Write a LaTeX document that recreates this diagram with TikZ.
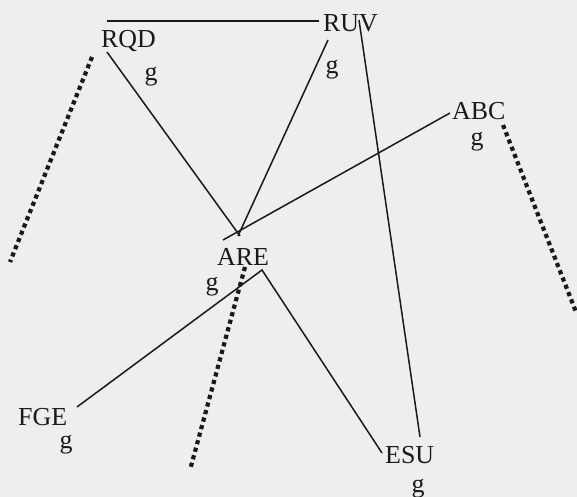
\documentclass[tikz,border=0pt]{standalone}
\usepackage{fontspec}
\setmainfont{Liberation Serif}
\definecolor{bg}{RGB}{238,238,236}
\definecolor{ink}{RGB}{25,25,25}
\begin{document}
\begin{tikzpicture}[x=1bp,y=-1bp,
  lbl/.style={inner sep=0pt, anchor=base west, font=\fontsize{26}{26}\selectfont, text=ink},
  gl/.style={inner sep=0pt, anchor=base, font=\fontsize{26}{26}\selectfont, text=ink},
  edge/.style={line width=1.5bp, draw=ink},
  dots/.style={line width=4.2bp, draw=ink, dash pattern=on 4.2bp off 3.6bp}]
\fill[bg] (0,0) rectangle (577,497);
\useasboundingbox (0,0) rectangle (577,497);
% labels
\node[lbl] (RQD) at (101,48) {RQD};
\node[gl]  (RQDg) at (151,81) {g};
\node[lbl] (RUV) at (323,32) {RUV};
\node[gl]  (RUVg) at (332,74) {g};
\node[lbl] (ABC) at (452,120) {ABC};
\node[gl]  (ABCg) at (477,146) {g};
\node[lbl] (ARE) at (217,265) {ARE};
\node[gl]  (AREg) at (212,290) {g};
\node[lbl] (FGE) at (18,425) {FGE};
\node[gl]  (FGEg) at (66,448) {g};
\node[lbl] (ESU) at (385,463) {ESU};
\node[gl]  (ESUg) at (418,492) {g};
% connector end points
\coordinate (rqdTop) at (107,21);
\coordinate (ruvLeft) at (319,21);
\coordinate (rqdLow) at (107,52);
\coordinate (areV1) at (240,236);
\coordinate (ruvLow) at (328,40);
\coordinate (areV2) at (238,236);
\coordinate (ruvMid) at (359,20);
\coordinate (esuTop) at (420,437);
\coordinate (abcLeft) at (450,113);
\coordinate (areLeft) at (223,240);
\coordinate (areCorner) at (262,270);
\coordinate (fgeRight) at (77,407);
\coordinate (esuLeft) at (382,453);
\coordinate (rqdDot) at (92,57);
\coordinate (dotEndA) at (10,262);
\coordinate (abcDot) at (503,125);
\coordinate (dotEndB) at (576,312);
\coordinate (areDot) at (245,267);
\coordinate (dotEndC) at (190,470);
% solid connectors
\draw[edge] (rqdTop) -- (ruvLeft);
\draw[edge] (rqdLow) -- (areV1);
\draw[edge] (ruvLow) -- (areV2);
\draw[edge] (ruvMid) -- (esuTop);
\draw[edge] (abcLeft) -- (areLeft);
\draw[edge] (fgeRight) -- (areCorner) -- (esuLeft);
% dotted connectors
\draw[dots] (rqdDot) -- (dotEndA);
\draw[dots] (abcDot) -- (dotEndB);
\draw[dots] (areDot) -- (dotEndC);
\end{tikzpicture}
\end{document}
